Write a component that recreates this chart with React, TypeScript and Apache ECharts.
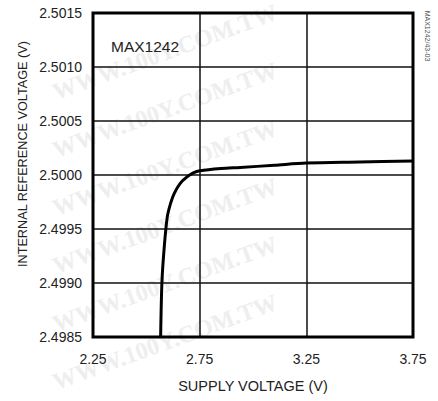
import React, { useEffect, useRef } from "react";
import * as echarts from "echarts";

// Supply voltage (V) and internal reference voltage (V)
const supplyVoltage = [2.567, 2.573, 2.583, 2.598, 2.614, 2.631, 2.658, 2.689, 2.72, 2.752, 2.85, 2.94, 3.1, 3.25, 3.5, 3.75];
const refVoltage = [2.4985, 2.499, 2.49931, 2.49961, 2.49974, 2.49983, 2.49992, 2.49998, 2.50002, 2.50004, 2.50006, 2.50007, 2.50009, 2.50011, 2.50012, 2.50013];

const X_MIN = 2.25;
const X_MAX = 3.75;
const X_STEP = 0.5;
const Y_MIN = 2.4985;
const Y_MAX = 2.5015;
const Y_STEP = 0.0005;
const Y_SCALE = 10000;

const partLabel = "MAX1242";
const figureId = "MAX1242/43-03";
const xTitle = "SUPPLY VOLTAGE (V)";
const yTitle = "INTERNAL REFERENCE VOLTAGE (V)";
const watermark = "WWW.100Y.COM.TW";
const watermarkRows = [52, 110, 168, 226, 284, 342];

const FONT = "'Liberation Sans', Arial, sans-serif";

export default function App() {
  const ref = useRef<HTMLDivElement>(null);
  useEffect(() => {
    if (!ref.current) return;
    const chart = echarts.init(ref.current, null, { renderer: "svg" });
    const data = supplyVoltage.map((v, i) => [v - X_MIN, (refVoltage[i] - Y_MIN) * Y_SCALE]);
    const wm = watermarkRows.map((y) => ({
      type: "text",
      x: 165,
      y,
      rotation: 0.35,
      z: -10,
      silent: true,
      style: {
        text: watermark,
        font: "bold 24px 'Liberation Serif', serif",
        fill: "#eeeeee",
        align: "center",
        verticalAlign: "middle",
      },
    }));
    chart.setOption({
      animation: false,
      backgroundColor: "#ffffff",
      textStyle: { fontFamily: FONT },
      grid: {
        left: 93,
        right: 25,
        top: 13,
        bottom: 64,
        show: true,
        borderColor: "#000",
        borderWidth: 3,
        z: 3,
      },
      graphic: [
        ...wm,
        {
          type: "text",
          left: 111,
          top: 38,
          z: 10,
          style: { text: partLabel, font: `15.5px ${FONT}`, fill: "#222" },
        },
        {
          type: "text",
          x: 22.5,
          y: 154,
          rotation: Math.PI / 2,
          z: 10,
          style: {
            text: yTitle,
            font: `12.7px ${FONT}`,
            fill: "#222",
            align: "center",
            verticalAlign: "middle",
          },
        },
        {
          type: "text",
          x: 427,
          y: 36,
          rotation: -Math.PI / 2,
          z: 10,
          style: {
            text: figureId,
            font: `7px ${FONT}`,
            fill: "#555",
            align: "center",
            verticalAlign: "middle",
          },
        },
      ],
      xAxis: {
        type: "value",
        min: 0,
        max: X_MAX - X_MIN,
        interval: X_STEP,
        name: xTitle,
        nameLocation: "middle",
        nameGap: 41,
        nameTextStyle: { fontSize: 14.5, color: "#222", fontFamily: FONT },
        axisLine: { show: false },
        axisTick: { show: false },
        axisLabel: {
          margin: 15,
          fontSize: 14,
          color: "#222",
          fontFamily: FONT,
          formatter: (v: number) => (v + X_MIN).toFixed(2),
        },
        splitLine: { show: true, lineStyle: { color: "#111", width: 1.5 } },
      },
      yAxis: {
        type: "value",
        min: 0,
        max: (Y_MAX - Y_MIN) * Y_SCALE,
        interval: Y_STEP * Y_SCALE,
        axisLine: { show: false },
        axisTick: { show: false },
        axisLabel: {
          margin: 11,
          fontSize: 14,
          color: "#222",
          fontFamily: FONT,
          formatter: (v: number) => (Y_MIN + v / Y_SCALE).toFixed(4),
        },
        splitLine: { show: true, lineStyle: { color: "#111", width: 1.5 } },
      },
      series: [
        {
          type: "line",
          data,
          smooth: 0.3,
          showSymbol: false,
          symbol: "none",
          clip: true,
          lineStyle: { color: "#000", width: 3 },
          z: 5,
        },
      ],
    });
    return () => chart.dispose();
  }, []);
  return (
    <div
      ref={ref}
      style={{ position: "fixed", left: 0, top: 0, width: 438, height: 401, background: "#fff" }}
    />
  );
}
